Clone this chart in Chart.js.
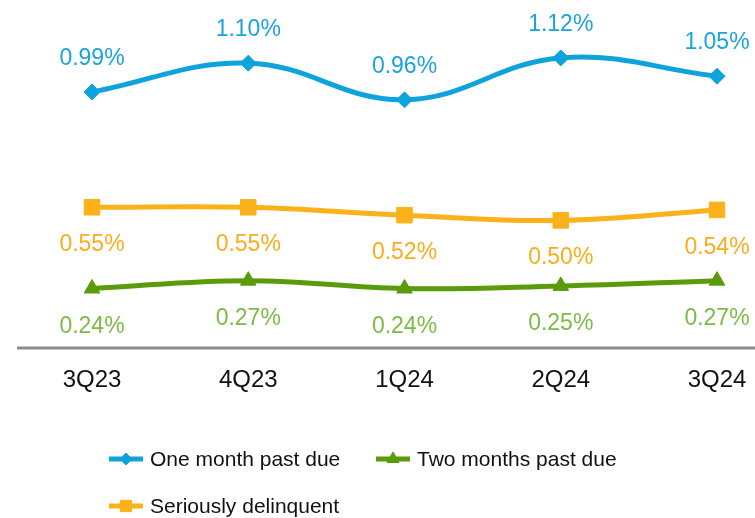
<!DOCTYPE html>
<html>
<head>
<meta charset="utf-8">
<script src="https://cdn.jsdelivr.net/npm/chart.js@4.4.1/dist/chart.umd.min.js"></script>
<style>
  html, body { margin: 0; padding: 0; background: #fff; }
  #wrap { width: 755px; height: 518px; }
</style>
</head>
<body>
<div id="wrap"><canvas id="delinquencyChart" width="755" height="518"></canvas></div>
<script>
// Chart data
const quarters = ['3Q23', '4Q23', '1Q24', '2Q24', '3Q24'];

const series = [
    {
        label: 'One month past due',
        values: [0.99, 1.10, 0.96, 1.12, 1.05],
        color: '#0fa3dd',
        labelColor: '#1aa3dd',
        pointStyle: 'rectRot',
        radius: 8,
        legendRadius: 6,
        labelPos: 'above'
    },
    {
        label: 'Two months past due',
        values: [0.24, 0.27, 0.24, 0.25, 0.27],
        color: '#5a9b0c',
        labelColor: '#7cbb45',
        pointStyle: 'triangle',
        radius: 9,
        legendRadius: 7,
        labelPos: 'below'
    },
    {
        label: 'Seriously delinquent',
        values: [0.55, 0.55, 0.52, 0.50, 0.54],
        color: '#fbb21a',
        labelColor: '#f9ad1c',
        pointStyle: 'rect',
        radius: 11,
        legendRadius: 8,
        labelPos: 'below'
    }
];

const LABEL_FONT = '23px "Liberation Sans", Arial, sans-serif';
const LEGEND_FONT = '21px "Liberation Sans", Arial, sans-serif';

// Value labels next to each point
const valueLabels = {
    id: 'valueLabels',
    afterDatasetsDraw(chart) {
        const ctx = chart.ctx;
        ctx.save();
        ctx.font = LABEL_FONT;
        ctx.textAlign = 'center';
        ctx.textBaseline = 'alphabetic';
        chart.data.datasets.forEach((ds, i) => {
            const meta = chart.getDatasetMeta(i);
            ctx.fillStyle = ds.labelColor;
            meta.data.forEach((pt, j) => {
                const text = ds.data[j].toFixed(2) + '%';
                const y = ds.labelPos === 'above' ? pt.y - 27 : pt.y + 44;
                ctx.fillText(text, pt.x, y);
            });
        });
        ctx.restore();
    }
};

// Horizontal base line across the whole width
const baseLine = {
    id: 'baseLine',
    beforeDatasetsDraw(chart) {
        const ctx = chart.ctx;
        const y = chart.chartArea.bottom;
        ctx.save();
        ctx.strokeStyle = '#8c8c8c';
        ctx.lineWidth = 3;
        ctx.beginPath();
        ctx.moveTo(17, y);
        ctx.lineTo(755, y);
        ctx.stroke();
        ctx.restore();
    }
};

// Legend laid out like the original (two columns, two rows)
const customLegend = {
    id: 'customLegend',
    afterDraw(chart) {
        const ctx = chart.ctx;
        const slots = [
            { x: 109, y: 459 },
            { x: 376, y: 459 },
            { x: 109, y: 506 }
        ];
        ctx.save();
        chart.data.datasets.forEach((ds, i) => {
            const s = slots[i];
            ctx.strokeStyle = ds.borderColor;
            ctx.lineWidth = 5;
            ctx.beginPath();
            ctx.moveTo(s.x, s.y);
            ctx.lineTo(s.x + 34, s.y);
            ctx.stroke();
            ctx.fillStyle = ds.borderColor;
            ctx.strokeStyle = ds.borderColor;
            ctx.lineWidth = 1;
            Chart.helpers.drawPoint(ctx, {
                pointStyle: ds.pointStyle,
                radius: ds.legendRadius,
                rotation: 0,
                borderWidth: 1
            }, s.x + 17, s.y);
            ctx.fillStyle = '#111';
            ctx.font = LEGEND_FONT;
            ctx.textAlign = 'left';
            ctx.textBaseline = 'alphabetic';
            ctx.fillText(ds.label, s.x + 41, s.y + 7);
        });
        ctx.restore();
    }
};

const ctx = document.getElementById('delinquencyChart').getContext('2d');

new Chart(ctx, {
    type: 'line',
    data: {
        labels: quarters,
        datasets: series.map(s => ({
            label: s.label,
            data: s.values,
            borderColor: s.color,
            backgroundColor: s.color,
            pointBackgroundColor: s.color,
            pointBorderColor: s.color,
            borderWidth: 5,
            pointStyle: s.pointStyle,
            pointRadius: s.radius,
            pointBorderWidth: 1,
            tension: 0.4,
            fill: false,
            clip: false,
            labelColor: s.labelColor,
            labelPos: s.labelPos,
            legendRadius: s.legendRadius
        }))
    },
    options: {
        responsive: false,
        animation: false,
        layout: {
            autoPadding: false,
            padding: { left: 92, right: 38, top: 0, bottom: 0 }
        },
        plugins: {
            legend: { display: false },
            tooltip: { enabled: false }
        },
        scales: {
            x: {
                offset: false,
                grid: { display: false, drawTicks: false },
                border: { display: false },
                ticks: {
                    color: '#111',
                    padding: 18,
                    maxRotation: 0,
                    autoSkip: false,
                    font: { family: '"Liberation Sans", Arial, sans-serif', size: 24 }
                },
                afterFit: scale => {
                    scale.height = 170;
                    scale.paddingLeft = 0;
                    scale.paddingRight = 0;
                    scale.paddingTop = 0;
                    scale.paddingBottom = 0;
                }
            },
            y: {
                display: false,
                min: 0.013,
                max: 1.341
            }
        }
    },
    plugins: [baseLine, valueLabels, customLegend]
});
</script>
</body>
</html>
